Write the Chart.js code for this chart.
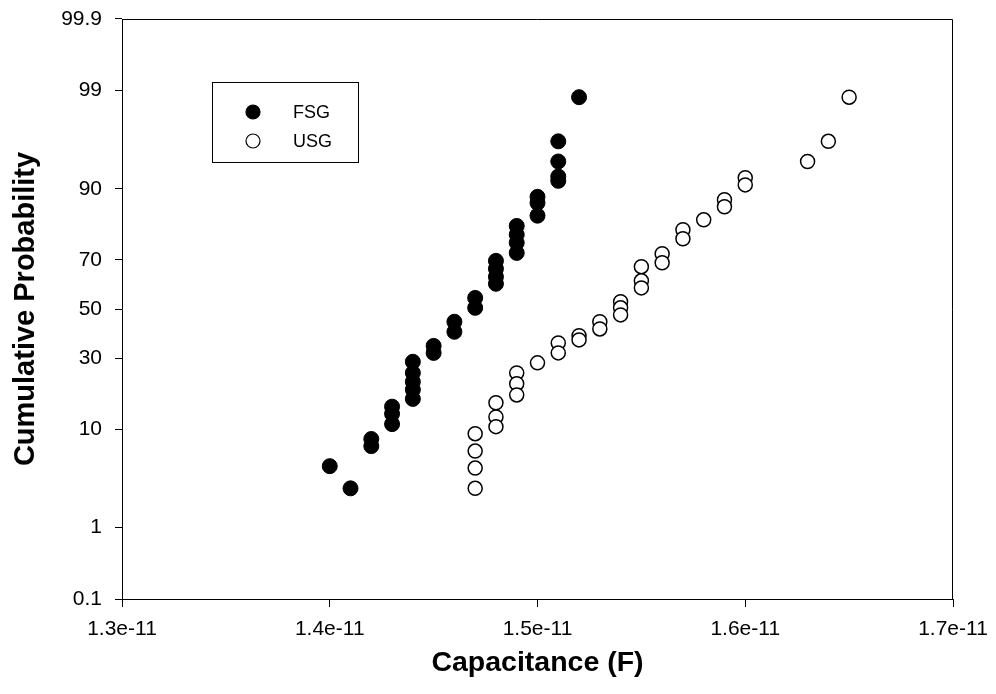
<!DOCTYPE html>
<html>
<head>
<meta charset="utf-8">
<script src="https://cdn.jsdelivr.net/npm/chart.js@4.4.1/dist/chart.umd.min.js"></script>
<style>
html, body { margin: 0; padding: 0; background: #fff; }
</style>
</head>
<body>
<canvas id="chart" width="996" height="694"></canvas>
<script>
// capacitance (F) and cumulative probability (%)
var fsgCap = [1.40e-11, 1.41e-11, 1.42e-11, 1.42e-11, 1.43e-11, 1.43e-11, 1.43e-11,
    1.44e-11, 1.44e-11, 1.44e-11, 1.44e-11, 1.44e-11, 1.45e-11, 1.45e-11, 1.46e-11, 1.46e-11,
    1.47e-11, 1.47e-11, 1.48e-11, 1.48e-11, 1.48e-11, 1.48e-11, 1.49e-11, 1.49e-11, 1.49e-11,
    1.49e-11, 1.50e-11, 1.50e-11, 1.50e-11, 1.51e-11, 1.51e-11, 1.51e-11, 1.51e-11, 1.52e-11];
var fsgProb = [4.7, 2.8, 8.3, 7.2, 14.9, 13.2, 11.0,
    28.7, 24.8, 21.9, 19.5, 16.9, 34.7, 32.0, 44.6, 40.4,
    54.7, 50.5, 69.6, 66.6, 63.4, 60.6, 81.2, 78.6, 76.0,
    72.5, 88.4, 87.1, 84.0, 96.3, 94.2, 92.1, 91.4, 98.8];

var usgCap = [1.47e-11, 1.47e-11, 1.47e-11, 1.47e-11, 1.48e-11, 1.48e-11, 1.48e-11,
    1.49e-11, 1.49e-11, 1.49e-11, 1.50e-11, 1.51e-11, 1.51e-11, 1.52e-11, 1.52e-11,
    1.53e-11, 1.53e-11, 1.54e-11, 1.54e-11, 1.54e-11, 1.55e-11, 1.55e-11, 1.55e-11,
    1.56e-11, 1.56e-11, 1.57e-11, 1.57e-11, 1.58e-11, 1.59e-11, 1.59e-11, 1.60e-11,
    1.60e-11, 1.63e-11, 1.64e-11, 1.65e-11];
var usgProb = [9.2, 6.5, 4.5, 2.8, 15.9, 12.5, 10.5,
    24.8, 21.3, 18.0, 28.3, 35.9, 32.0, 38.8, 37.1,
    44.6, 41.6, 53.1, 50.5, 47.5, 67.4, 61.8, 58.9,
    72.2, 68.9, 80.1, 77.3, 82.9, 87.8, 86.2, 91.9,
    90.7, 94.2, 96.3, 98.8];

var yTickProb = [0.1, 1, 10, 30, 50, 70, 90, 99, 99.9];
var yTickLabels = ['0.1', '1', '10', '30', '50', '70', '90', '99', '99.9'];
var xTicks = [1.3e-11, 1.4e-11, 1.5e-11, 1.6e-11, 1.7e-11];
var xTickLabels = ['1.3e-11', '1.4e-11', '1.5e-11', '1.6e-11', '1.7e-11'];

var FONT = "Arial, 'Liberation Sans', sans-serif";

// inverse normal CDF (Acklam) - the probability axis is drawn in z units
function probit(p) {
    var a = [-3.969683028665376e+01, 2.209460984245205e+02, -2.759285104469687e+02, 1.383577518672690e+02, -3.066479806614716e+01, 2.506628277459239e+00];
    var b = [-5.447609879822406e+01, 1.615858368580409e+02, -1.556989798598866e+02, 6.680131188771972e+01, -1.328068155288572e+01];
    var c = [-7.784894002430293e-03, -3.223964580411365e-01, -2.400758277161838e+00, -2.549732539343734e+00, 4.374664141464968e+00, 2.938163982698783e+00];
    var d = [7.784695709041462e-03, 3.224671290700398e-01, 2.445134137142996e+00, 3.754408661907416e+00];
    var plow = 0.02425, q, r;
    if (p < plow) {
        q = Math.sqrt(-2 * Math.log(p));
        return (((((c[0]*q+c[1])*q+c[2])*q+c[3])*q+c[4])*q+c[5]) / ((((d[0]*q+d[1])*q+d[2])*q+d[3])*q+1);
    }
    if (p <= 1 - plow) {
        q = p - 0.5; r = q * q;
        return (((((a[0]*r+a[1])*r+a[2])*r+a[3])*r+a[4])*r+a[5])*q / (((((b[0]*r+b[1])*r+b[2])*r+b[3])*r+b[4])*r+1);
    }
    q = Math.sqrt(-2 * Math.log(1 - p));
    return -(((((c[0]*q+c[1])*q+c[2])*q+c[3])*q+c[4])*q+c[5]) / ((((d[0]*q+d[1])*q+d[2])*q+d[3])*q+1);
}

function toPoints(xs, ps) {
    var out = [];
    for (var i = 0; i < xs.length; i++) {
        out.push({x: xs[i], y: probit(ps[i] / 100)});
    }
    return out;
}

// top/right frame lines
var framePlugin = {
    id: 'frame',
    afterDraw: function(chart) {
        var ctx = chart.ctx, a = chart.chartArea;
        ctx.save();
        ctx.strokeStyle = '#000';
        ctx.lineWidth = 1;
        ctx.beginPath();
        ctx.moveTo(a.left, a.top + 0.5);
        ctx.lineTo(a.right - 0.5, a.top + 0.5);
        ctx.lineTo(a.right - 0.5, a.bottom);
        ctx.stroke();
        ctx.restore();
    }
};

// boxed legend inside the plot
var legendPlugin = {
    id: 'boxLegend',
    afterDatasetsDraw: function(chart) {
        var ctx = chart.ctx;
        var ds = chart.data.datasets;
        ctx.save();
        ctx.fillStyle = '#fff';
        ctx.fillRect(212, 82, 146, 80);
        ctx.strokeStyle = '#000';
        ctx.lineWidth = 1;
        ctx.strokeRect(212.5, 82.5, 146, 80);
        ctx.font = '18px ' + FONT;
        ctx.textBaseline = 'middle';
        for (var i = 0; i < ds.length; i++) {
            var y = 112 + i * 29;
            ctx.beginPath();
            ctx.arc(253, y, 7, 0, Math.PI * 2);
            ctx.fillStyle = ds[i].pointBackgroundColor;
            ctx.fill();
            ctx.lineWidth = 1.2;
            ctx.strokeStyle = '#000';
            ctx.stroke();
            ctx.fillStyle = '#000';
            ctx.fillText(ds[i].label, 293, y + 1);
        }
        ctx.restore();
    }
};

var chart = new Chart(document.getElementById('chart'), {
    type: 'scatter',
    data: {
        datasets: [{
            label: 'FSG',
            data: toPoints(fsgCap, fsgProb),
            pointRadius: 7.5,
            pointBackgroundColor: '#000',
            pointBorderColor: '#000',
            pointBorderWidth: 1
        }, {
            label: 'USG',
            data: toPoints(usgCap, usgProb),
            pointRadius: 7,
            pointBackgroundColor: '#fff',
            pointBorderColor: '#000',
            pointBorderWidth: 1.5
        }]
    },
    options: {
        responsive: false,
        animation: false,
        clip: false,
        layout: { padding: { top: 19, right: 43, left: 0, bottom: 0 } },
        plugins: {
            legend: { display: false },
            tooltip: { enabled: false }
        },
        scales: {
            x: {
                type: 'linear',
                min: 1.3e-11,
                max: 1.7e-11,
                afterBuildTicks: function(scale) {
                    scale.ticks = xTicks.map(function(v) { return {value: v}; });
                },
                afterFit: function(scale) {
                    scale.height = 95;
                    scale.paddingLeft = 0;
                    scale.paddingRight = 0;
                },
                border: { display: true, color: '#000', width: 1 },
                grid: { drawOnChartArea: false, drawTicks: true, tickLength: 8, color: '#000' },
                ticks: {
                    autoSkip: false,
                    maxRotation: 0,
                    padding: 10,
                    color: '#000',
                    font: { family: FONT, size: 21 },
                    callback: function(v, i) { return xTickLabels[i]; }
                },
                title: {
                    display: true,
                    text: 'Capacitance (F)',
                    color: '#000',
                    font: { family: FONT, size: 28.5, weight: 'bold' },
                    padding: { top: 0, bottom: 14 }
                }
            },
            y: {
                type: 'linear',
                min: probit(0.001),
                max: probit(0.999),
                afterBuildTicks: function(scale) {
                    scale.ticks = yTickProb.map(function(p) { return {value: probit(p / 100)}; });
                },
                afterFit: function(scale) {
                    scale.width = 122;
                    scale.paddingTop = 0;
                    scale.paddingBottom = 0;
                },
                border: { display: true, color: '#000', width: 1 },
                grid: { drawOnChartArea: false, drawTicks: true, tickLength: 7, color: '#000' },
                ticks: {
                    autoSkip: false,
                    padding: 13,
                    color: '#000',
                    font: { family: FONT, size: 21 },
                    callback: function(v, i) { return yTickLabels[i]; }
                },
                title: {
                    display: true,
                    text: 'Cumulative Probability',
                    color: '#000',
                    font: { family: FONT, size: 29, weight: 'bold' },
                    padding: { top: 9, bottom: 0 }
                }
            }
        }
    },
    plugins: [framePlugin, legendPlugin]
});
</script>
</body>
</html>
